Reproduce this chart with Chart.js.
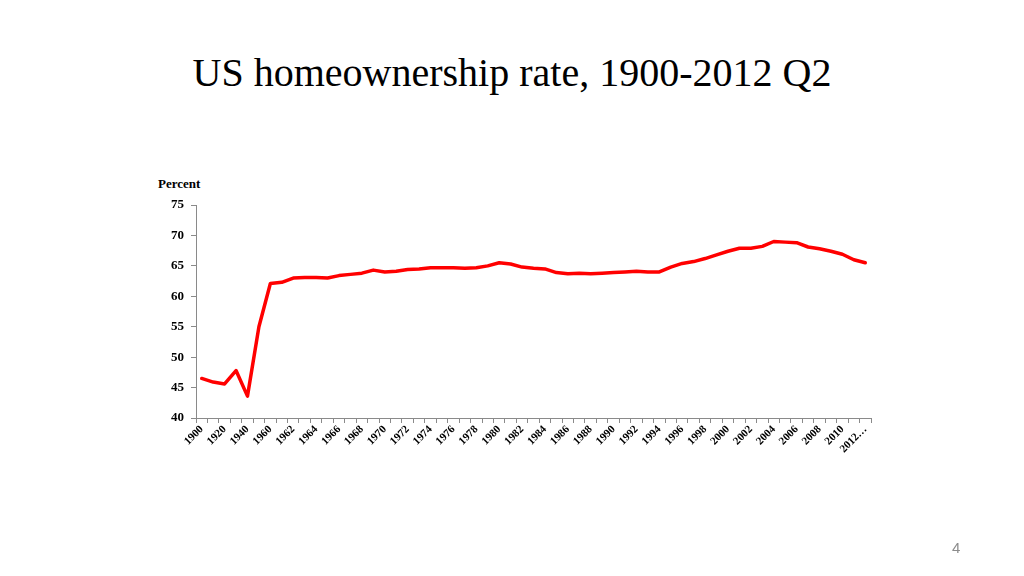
<!DOCTYPE html>
<html lang="en">
<head>
    <meta charset="UTF-8">
    <title>US homeownership rate, 1900-2012 Q2</title>
    <script src="https://cdn.jsdelivr.net/npm/chart.js"></script>
    <style>
        html, body { margin: 0; padding: 0; background: #fff; }
        #page { position: relative; width: 1024px; height: 576px; overflow: hidden; }
        #title {
            position: absolute; left: 0; width: 1024px; top: 49px;
            text-align: center; font-family: "Liberation Serif", serif;
            font-size: 40px; color: #000;
        }
        #unit {
            position: absolute; left: 158px; top: 176px;
            font-family: "Liberation Serif", serif; font-weight: bold; font-size: 13px;
        }
        #pagenum {
            position: absolute; left: 952px; top: 539px;
            font-family: "Liberation Sans", sans-serif; font-size: 15px; color: #8c8c8c;
        }
        #chartBox { position: absolute; left: 0; top: 0; width: 1024px; height: 576px; }
    </style>
</head>
<body>
    <div id="page">
        <div id="title">US homeownership rate, 1900-2012 Q2</div>
        <div id="unit">Percent</div>
        <div id="chartBox"><canvas id="homeChart"></canvas></div>
        <div id="pagenum">4</div>
    </div>
    <script>
        // decennial census years, then annual from 1960
        const years = [
            "1900", "1910", "1920", "1930", "1940", "1950",
            "1960", "1961", "1962", "1963", "1964", "1965", "1966", "1967", "1968", "1969",
            "1970", "1971", "1972", "1973", "1974", "1975", "1976", "1977", "1978", "1979",
            "1980", "1981", "1982", "1983", "1984", "1985", "1986", "1987", "1988", "1989",
            "1990", "1991", "1992", "1993", "1994", "1995", "1996", "1997", "1998", "1999",
            "2000", "2001", "2002", "2003", "2004", "2005", "2006", "2007", "2008", "2009",
            "2010", "2011", "2012 Q2"
        ];
        const rate = [
            46.5, 45.9, 45.6, 47.8, 43.6, 55.0,
            62.1, 62.3, 63.0, 63.1, 63.1, 63.0, 63.4, 63.6, 63.8, 64.3,
            64.0, 64.1, 64.4, 64.5, 64.7, 64.7, 64.7, 64.6, 64.7, 65.0,
            65.5, 65.3, 64.8, 64.6, 64.5, 63.9, 63.7, 63.8, 63.7, 63.8,
            63.9, 64.0, 64.1, 64.0, 64.0, 64.8, 65.4, 65.7, 66.2, 66.8,
            67.4, 67.9, 67.9, 68.2, 69.0, 68.9, 68.8, 68.1, 67.8, 67.4,
            66.9, 66.0, 65.5
        ];
        const yTicks = [40, 45, 50, 55, 60, 65, 70, 75];

        const axisGrey = "#8a8a8a";
        const serif = "'Liberation Serif', 'Times New Roman', serif";

        const ctx = document.getElementById("homeChart").getContext("2d");
        new Chart(ctx, {
            type: "line",
            data: {
                labels: years,
                datasets: [{
                    label: "Homeownership rate",
                    data: rate,
                    borderColor: "#ff0000",
                    borderWidth: 3.5,
                    borderJoinStyle: "round",
                    borderCapStyle: "round",
                    pointRadius: 0,
                    fill: false,
                    tension: 0
                }]
            },
            options: {
                responsive: true,
                maintainAspectRatio: false,
                animation: false,
                layout: { padding: { left: 0, right: 153, top: 205, bottom: 96 } },
                plugins: {
                    legend: { display: false },
                    tooltip: { enabled: false }
                },
                scales: {
                    x: {
                        offset: true,
                        grid: {
                            offset: true,
                            drawOnChartArea: false,
                            drawTicks: true,
                            tickLength: 5,
                            color: axisGrey
                        },
                        border: { color: axisGrey, width: 1 },
                        afterFit: function (scale) { scale.height = 62; },
                        ticks: {
                            autoSkip: false,
                            minRotation: 45,
                            maxRotation: 45,
                            padding: 0,
                            color: "#000",
                            font: { family: serif, size: 11, weight: "bold" },
                            callback: function (value, index) {
                                if (index % 2 !== 0) return "";
                                const lab = years[index];
                                return lab.length > 4 ? lab.slice(0, 4) + "…" : lab;
                            }
                        }
                    },
                    y: {
                        min: yTicks[0],
                        max: yTicks[yTicks.length - 1],
                        afterFit: function (scale) { scale.width = 196; },
                        afterBuildTicks: function (scale) {
                            scale.ticks = yTicks.map(v => ({ value: v }));
                        },
                        grid: {
                            drawOnChartArea: false,
                            drawTicks: true,
                            tickLength: 5,
                            color: axisGrey
                        },
                        border: { color: axisGrey, width: 1 },
                        ticks: {
                            padding: 7,
                            color: "#000",
                            font: { family: serif, size: 13, weight: "bold" }
                        }
                    }
                }
            }
        });
    </script>
</body>
</html>
